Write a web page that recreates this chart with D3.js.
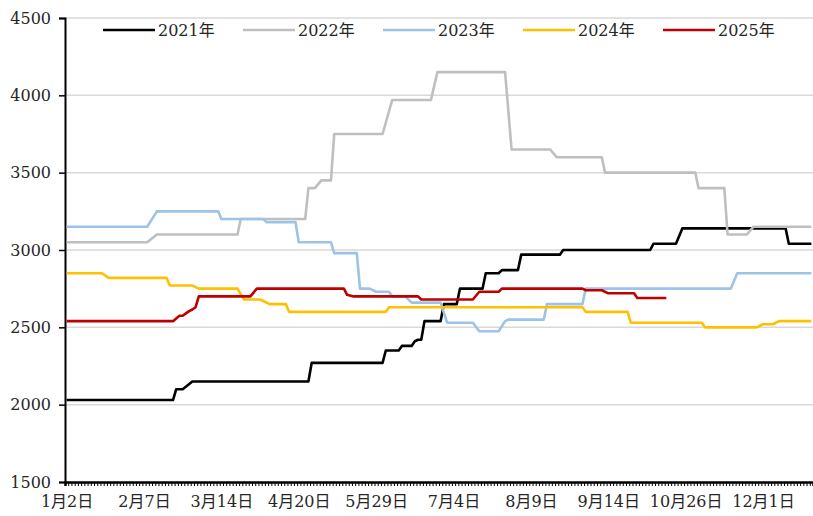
<!DOCTYPE html>
<meta charset="utf-8">
<style>
  body { margin: 0; background: #fff; }
  svg { display: block; }
  text { font-family: "DejaVu Serif", "Noto Sans CJK SC", serif; font-size: 16px; fill: #262626; }
  .grid line { stroke: #d9d9d9; stroke-width: 1.5px; }
  .line { fill: none; stroke-width: 2.6px; stroke-linejoin: round; }
</style>
<svg width="813" height="516"></svg>
<script src="https://d3js.org/d3.v7.min.js"></script>
<script>

  // category axis: trading days, one label every 24 days
  var dayCount = 232;
  var labelEvery = 24;
  var tickLabels = ["1月2日", "2月7日", "3月14日", "4月20日", "5月29日",
    "7月4日", "8月9日", "9月14日", "10月26日", "12月1日"];
  var yTicks = [1500, 2000, 2500, 3000, 3500, 4000, 4500];

  var seriesNames = ["2021年", "2022年", "2023年", "2024年", "2025年"];
  var seriesColors = ["#000000", "#bfbfbf", "#9dc3e6", "#ffc000", "#c00000"];

  // [day index, price] break points
  var y2021 = [[0, 2030], [33, 2030], [34, 2100], [36, 2100], [39, 2150], [75, 2150], [76, 2270],
    [98, 2270], [99, 2350], [103, 2350], [104, 2380], [107, 2380], [108, 2410], [109, 2420],
    [110, 2420], [111, 2540], [116, 2540], [117, 2650], [121, 2650], [122, 2750], [129, 2750],
    [130, 2850], [134, 2850], [135, 2870], [140, 2870], [141, 2970], [153, 2970], [154, 3000],
    [181, 3000], [182, 3040], [189, 3040], [191, 3140], [223, 3140], [224, 3040], [231, 3040]];
  var y2022 = [[0, 3050], [25, 3050], [28, 3100], [53, 3100], [54, 3200], [74, 3200], [75, 3400],
    [77, 3400], [79, 3450], [82, 3450], [83, 3750], [98, 3750], [101, 3970], [113, 3970],
    [115, 4150], [136, 4150], [138, 3650], [150, 3650], [152, 3600], [166, 3600], [167, 3500],
    [195, 3500], [196, 3400], [204, 3400], [205, 3100], [211, 3100], [213, 3150], [231, 3150]];
  var y2023 = [[0, 3150], [25, 3150], [28, 3250], [47, 3250], [48, 3200], [61, 3200], [62, 3180],
    [71, 3180], [72, 3050], [82, 3050], [83, 2980], [90, 2980], [91, 2750], [94, 2750],
    [96, 2730], [100, 2730], [101, 2700], [105, 2700], [107, 2660], [116, 2660], [118, 2530],
    [126, 2530], [128, 2475], [134, 2475], [136, 2540], [137, 2550], [148, 2550], [149, 2650],
    [160, 2650], [161, 2750], [206, 2750], [208, 2850], [231, 2850]];
  var y2024 = [[0, 2850], [11, 2850], [13, 2820], [31, 2820], [32, 2770], [39, 2770], [41, 2750],
    [53, 2750], [55, 2680], [60, 2680], [63, 2650], [68, 2650], [69, 2600], [99, 2600],
    [100, 2630], [160, 2630], [161, 2600], [174, 2600], [175, 2530], [197, 2530], [198, 2500],
    [214, 2500], [216, 2520], [219, 2520], [221, 2540], [231, 2540]];
  var y2025 = [[0, 2540], [33, 2540], [35, 2575], [36, 2575], [37, 2590], [38, 2605], [39, 2615],
    [40, 2630], [41, 2700], [57, 2700], [59, 2750], [86, 2750], [87, 2710], [89, 2700],
    [109, 2700], [110, 2680], [126, 2680], [128, 2730], [134, 2730], [135, 2750], [160, 2750],
    [161, 2740], [166, 2740], [168, 2720], [176, 2720], [177, 2690], [186, 2690]];

  var seriesData = [y2021, y2022, y2023, y2024, y2025];

  var svg = d3.select("svg"),
    margin = { top: 18, right: 0, bottom: 34, left: 65 },
    width = svg.attr("width") - margin.left - margin.right,
    height = svg.attr("height") - margin.top - margin.bottom,
    g = svg.append("g").attr("transform", "translate(" + margin.left + "," + margin.top + ")");

  // categories sit between tick marks
  var xScale = d3.scaleLinear()
    .domain([-0.5, dayCount - 0.5])
    .range([0, width]);
  var yScale = d3.scaleLinear()
    .domain([1500, 4500])
    .range([height, 0]);

  // gridlines
  g.append("g")
    .attr("class", "grid")
    .selectAll("line")
    .data(yTicks.slice(1))
    .enter().append("line")
    .attr("x1", 0)
    .attr("x2", width)
    .attr("y1", function (d) { return yScale(d); })
    .attr("y2", function (d) { return yScale(d); });

  // y axis
  var yAxis = g.append("g")
    .call(d3.axisLeft(yScale).tickValues(yTicks).tickSize(6).tickPadding(8).tickFormat(d3.format("d")));
  yAxis.select(".domain").attr("stroke", "#000").attr("stroke-width", 2);
  yAxis.selectAll(".tick line").attr("stroke", "#000").attr("stroke-width", 1.5);
  yAxis.selectAll("text").attr("fill", "#262626").attr("font-size", null);

  // lines
  var line = d3.line()
    .x(function (d) { return xScale(d[0]); })
    .y(function (d) { return yScale(d[1]); });

  g.selectAll(".line")
    .data(seriesData)
    .enter().append("path")
    .attr("class", "line")
    .attr("d", line)
    .style("stroke", function (d, i) { return seriesColors[i]; });

  // x axis: one small tick per day
  var xTicks = g.append("g")
    .attr("transform", "translate(0," + height + ")")
    .call(d3.axisBottom(xScale)
      .tickValues(d3.range(dayCount + 1).map(function (i) { return i - 0.5; }))
      .tickSize(4)
      .tickFormat(""));
  xTicks.select(".domain").attr("stroke", "#000").attr("stroke-width", 2.5);
  xTicks.selectAll(".tick line").attr("stroke", "#000").attr("stroke-width", 1);

  // x labels
  var xLabels = g.append("g")
    .attr("transform", "translate(0," + height + ")")
    .call(d3.axisBottom(xScale)
      .tickValues(tickLabels.map(function (d, i) { return i * labelEvery; }))
      .tickSize(0)
      .tickPadding(14)
      .tickFormat(function (d, i) { return tickLabels[i]; }));
  xLabels.select(".domain").remove();
  xLabels.selectAll("text").attr("fill", "#262626").attr("font-size", null);

  // legend
  var legend = svg.append("g")
    .selectAll("g")
    .data(seriesNames)
    .enter().append("g")
    .attr("transform", function (d, i) { return "translate(" + (103 + i * 140) + ",30)"; });

  legend.append("line")
    .attr("x1", 0)
    .attr("x2", 52)
    .attr("stroke-width", 2.6)
    .attr("stroke", function (d, i) { return seriesColors[i]; });

  legend.append("text")
    .attr("x", 55)
    .attr("dy", "0.35em")
    .text(function (d) { return d; });

</script>
